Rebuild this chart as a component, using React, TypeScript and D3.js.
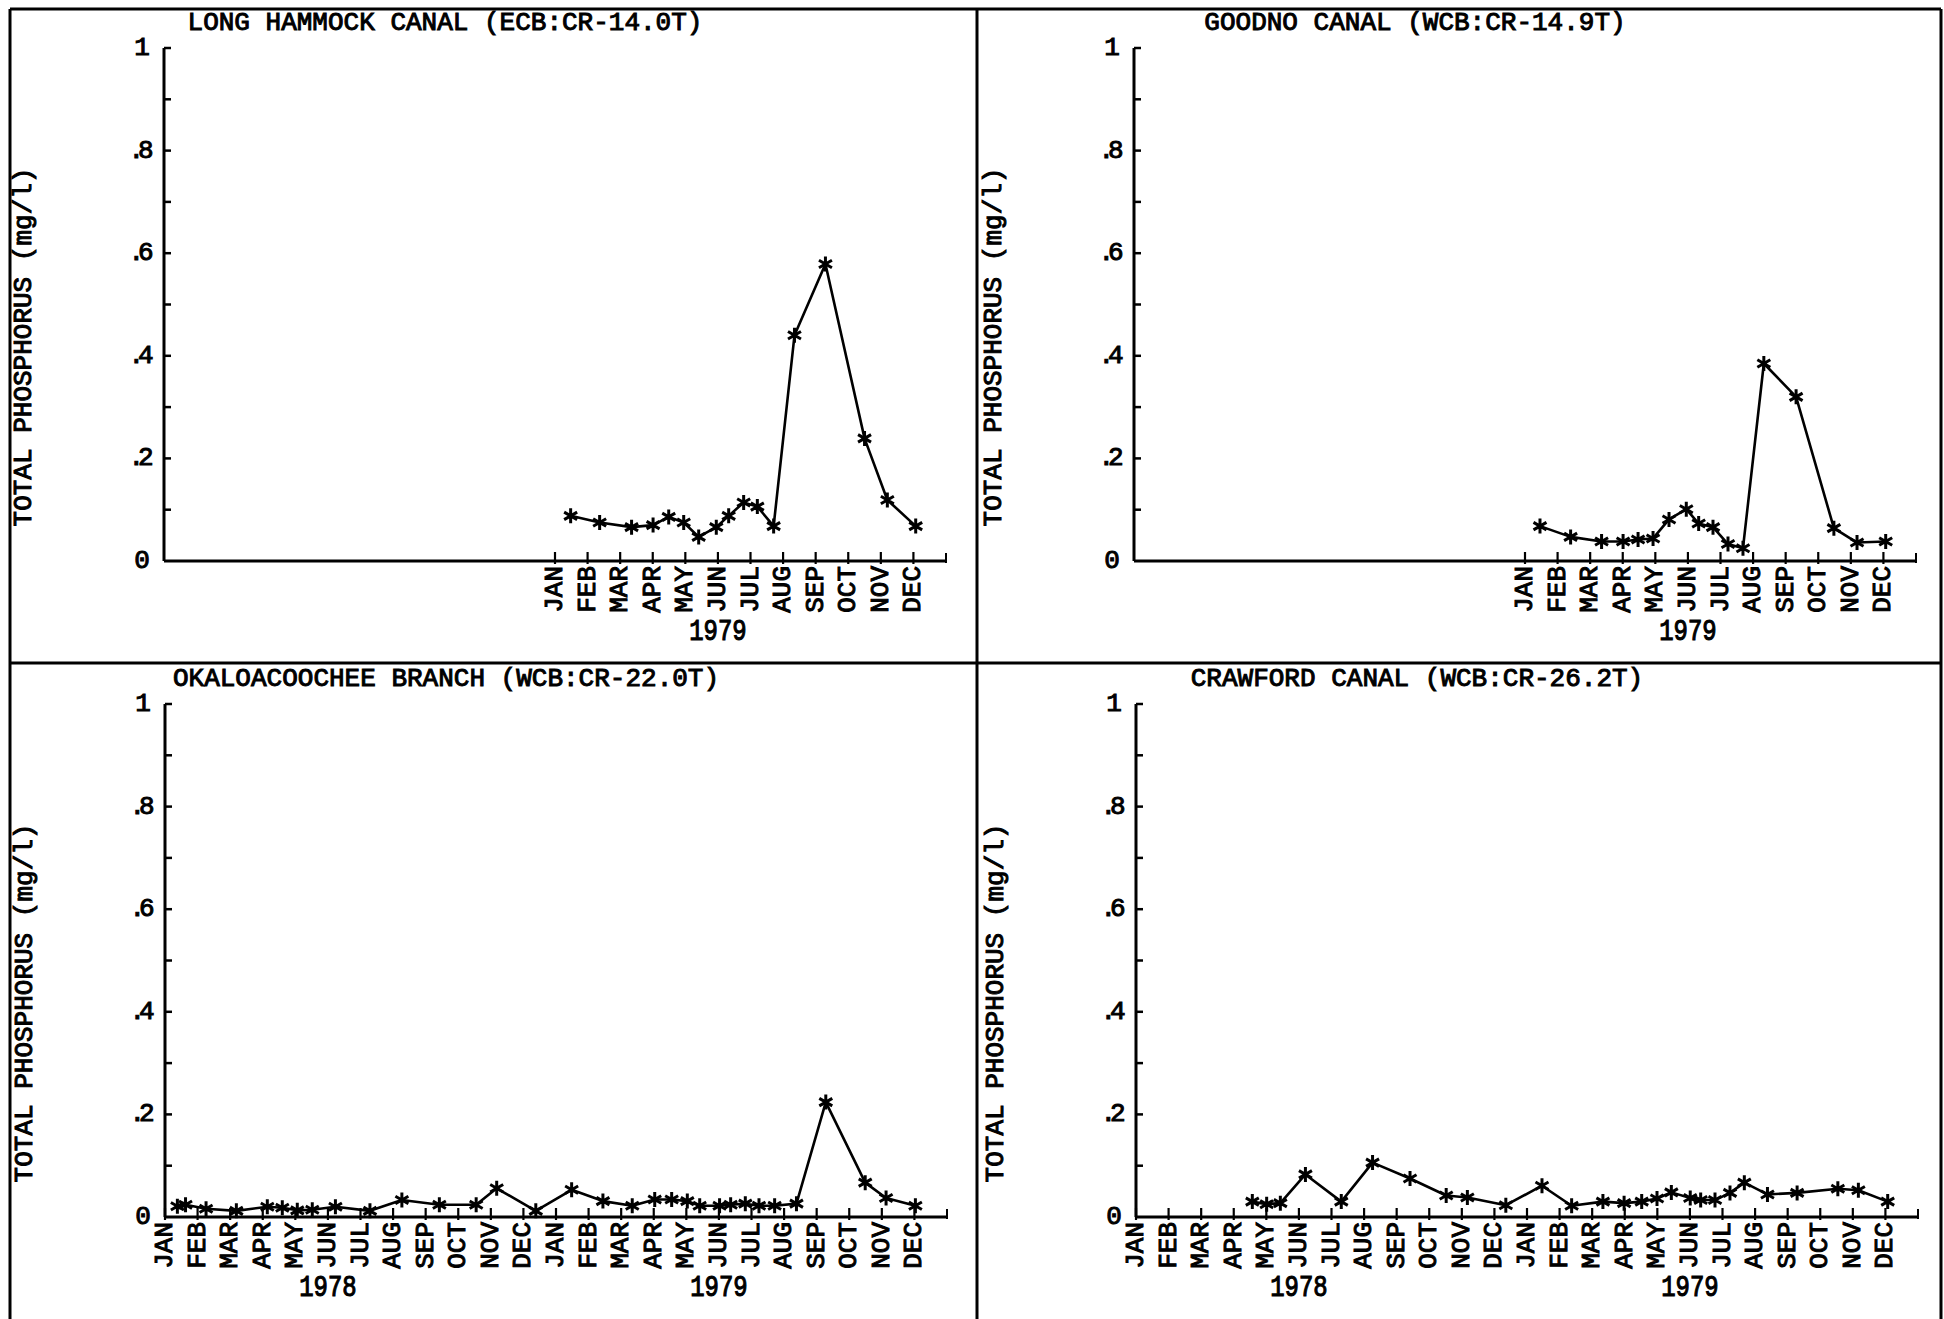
import * as d3 from 'd3'

// month index 0 = JAN 1978, fractional = sampling date within the month
const MONTHS = ['JAN', 'FEB', 'MAR', 'APR', 'MAY', 'JUN', 'JUL', 'AUG', 'SEP', 'OCT', 'NOV', 'DEC']
const YEARS = ['1978', '1979']
const Y_TICKS = [0, 0.2, 0.4, 0.6, 0.8, 1]
const Y_TICK_LABELS = ['0', '.2', '.4', '.6', '.8', '1']
const Y_LABEL = 'TOTAL PHOSPHORUS (mg/l)'

const longHammockT = [12.48, 13.37, 14.35, 15.01, 15.49, 15.95, 16.41, 16.95, 17.33, 17.79, 18.21, 18.71, 19.35, 20.3, 21.5, 22.2, 23.07]
const longHammockP = [0.088, 0.075, 0.066, 0.07, 0.086, 0.075, 0.047, 0.066, 0.088, 0.114, 0.106, 0.068, 0.44, 0.579, 0.239, 0.119, 0.068]

const goodnoT = [12.46, 13.4, 14.35, 15.01, 15.47, 15.93, 16.42, 16.95, 17.33, 17.77, 18.23, 18.69, 19.33, 20.32, 21.48, 22.19, 23.07]
const goodnoP = [0.068, 0.047, 0.038, 0.038, 0.042, 0.044, 0.081, 0.101, 0.073, 0.066, 0.033, 0.025, 0.385, 0.32, 0.064, 0.036, 0.038]

const okaloT = [0.38, 0.63, 1.26, 2.19, 3.14, 3.6, 4.06, 4.52, 5.23, 6.29, 7.27, 8.42, 9.55, 10.18, 11.38, 12.48, 13.44, 14.34, 15.03, 15.55, 16.03, 16.41, 17.02, 17.36, 17.81, 18.23, 18.71, 19.38, 20.28, 21.49, 22.13, 23.03]
const okaloP = [0.021, 0.024, 0.016, 0.012, 0.02, 0.018, 0.013, 0.014, 0.02, 0.012, 0.033, 0.024, 0.024, 0.056, 0.012, 0.053, 0.031, 0.022, 0.034, 0.034, 0.031, 0.022, 0.022, 0.024, 0.026, 0.022, 0.022, 0.026, 0.224, 0.067, 0.037, 0.022]

const crawfordT = [3.57, 4.01, 4.43, 5.2, 6.3, 7.26, 8.41, 9.52, 10.17, 11.35, 12.46, 13.37, 14.33, 14.98, 15.52, 15.99, 16.43, 17.01, 17.33, 17.77, 18.23, 18.67, 19.38, 20.29, 21.54, 22.17, 23.07]
const crawfordP = [0.03, 0.025, 0.027, 0.083, 0.03, 0.106, 0.075, 0.042, 0.038, 0.023, 0.061, 0.022, 0.03, 0.027, 0.03, 0.036, 0.048, 0.037, 0.033, 0.033, 0.047, 0.067, 0.044, 0.047, 0.055, 0.052, 0.03]

const FONT = '"Liberation Mono", "DejaVu Sans Mono", monospace'
const W = 1944
const H = 1319
const AXIS_W = 782

const panels = [
  { title: 'LONG HAMMOCK CANAL (ECB:CR-14.0T)', t: longHammockT, p: longHammockP, x0: 164, y0: 561, y1: 48, from: 12 },
  { title: 'GOODNO CANAL (WCB:CR-14.9T)', t: goodnoT, p: goodnoP, x0: 1134, y0: 561, y1: 48, from: 12 },
  { title: 'OKALOACOOCHEE BRANCH (WCB:CR-22.0T)', t: okaloT, p: okaloP, x0: 165, y0: 1217, y1: 704, from: 0 },
  { title: 'CRAWFORD CANAL (WCB:CR-26.2T)', t: crawfordT, p: crawfordP, x0: 1136, y0: 1217, y1: 704, from: 0 },
]

const txt = { fontFamily: FONT, fontSize: 26, fill: '#000', stroke: '#000', strokeWidth: 1 }

function Star({ cx, cy }) {
  const r = 7.5
  const a = r * Math.cos(Math.PI / 6)
  const b = r * Math.sin(Math.PI / 6)
  return (
    <path
      d={`M${cx},${cy - r}L${cx},${cy + r}M${cx - a},${cy - b}L${cx + a},${cy + b}M${cx - a},${cy + b}L${cx + a},${cy - b}`}
      stroke="#000"
      strokeWidth={3}
    />
  )
}

function Panel({ title, t, p, x0, y0, y1, from }) {
  const x = d3.scaleLinear().domain([0, 24]).range([x0, x0 + AXIS_W])
  const y = d3.scaleLinear().domain([0, 1]).range([y0, y1])
  const line = d3.line<number>().x((d, i) => x(t[i])).y(d => y(d))
  const monthTicks = d3.range(from, 24)
  const minor = d3.range(1, 11).map(d => d / 10)
  const years = YEARS.slice(from / 12)

  return (
    <g>
      <text x={x0 + 281} y={y0 - 538} textAnchor="middle" dominantBaseline="central" {...txt}>{title}</text>
      <text
        transform={`translate(${x0 - 140},${y0 - 214}) rotate(-90)`}
        textAnchor="middle"
        dominantBaseline="central"
        {...txt}
      >{Y_LABEL}</text>

      {/* y axis */}
      <line x1={x0} x2={x0} y1={y0} y2={y1} stroke="#000" strokeWidth={3} />
      {minor.map(d => (
        <line key={d} x1={x0} x2={x0 + 7} y1={y(d)} y2={y(d)} stroke="#000" strokeWidth={2.5} />
      ))}
      {Y_TICKS.map((d, i) => (
        <text
          key={d}
          x={x0 - 22}
          y={y(d)}
          textAnchor="middle"
          dominantBaseline="central"
          letterSpacing={Y_TICK_LABELS[i].length > 1 ? -6 : 0}
          dx={Y_TICK_LABELS[i].length > 1 ? -4 : 0}
          {...txt}
        >{Y_TICK_LABELS[i]}</text>
      ))}

      {/* x axis */}
      <line x1={x0} x2={x(24)} y1={y0} y2={y0} stroke="#000" strokeWidth={3} />
      {monthTicks.map(m => (
        <g key={m}>
          <line x1={x(m)} x2={x(m)} y1={y0 - 9} y2={y0 + 3} stroke="#000" strokeWidth={2.2} />
          <text
            transform={`translate(${x(m)},${y0 + 5}) rotate(-90)`}
            textAnchor="end"
            dominantBaseline="central"
            {...txt}
          >{MONTHS[m % 12]}</text>
        </g>
      ))}
      <line x1={x(24)} x2={x(24)} y1={y0 - 8} y2={y0 + 2} stroke="#000" strokeWidth={2} />
      {years.map((yr, i) => (
        <text
          key={yr}
          transform={`translate(${x(from + i * 12 + 5)},${y0 + 71}) scale(0.92,1.15)`}
          textAnchor="middle"
          dominantBaseline="central"
          {...txt}
        >{yr}</text>
      ))}

      {/* series */}
      <path d={line(p) ?? ''} fill="none" stroke="#000" strokeWidth={2.6} strokeLinejoin="round" />
      {p.map((d, i) => (
        <Star key={i} cx={x(t[i])} cy={y(d)} />
      ))}
    </g>
  )
}

export default function App() {
  return (
    <svg width={W} height={H} style={{ position: 'absolute', left: 0, top: 0, background: '#fff' }}>
      <rect x={0} y={0} width={W} height={H} fill="#fff" />
      {/* page frame and dividers */}
      <line x1={10} x2={1941} y1={9} y2={9} stroke="#000" strokeWidth={3} />
      <line x1={10} x2={10} y1={9} y2={H} stroke="#000" strokeWidth={3} />
      <line x1={1941} x2={1941} y1={9} y2={H} stroke="#000" strokeWidth={3} />
      <line x1={977} x2={977} y1={9} y2={H} stroke="#000" strokeWidth={3} />
      <line x1={10} x2={1941} y1={663} y2={663} stroke="#000" strokeWidth={3} />
      {panels.map(pn => (
        <Panel key={pn.title} {...pn} />
      ))}
    </svg>
  )
}
